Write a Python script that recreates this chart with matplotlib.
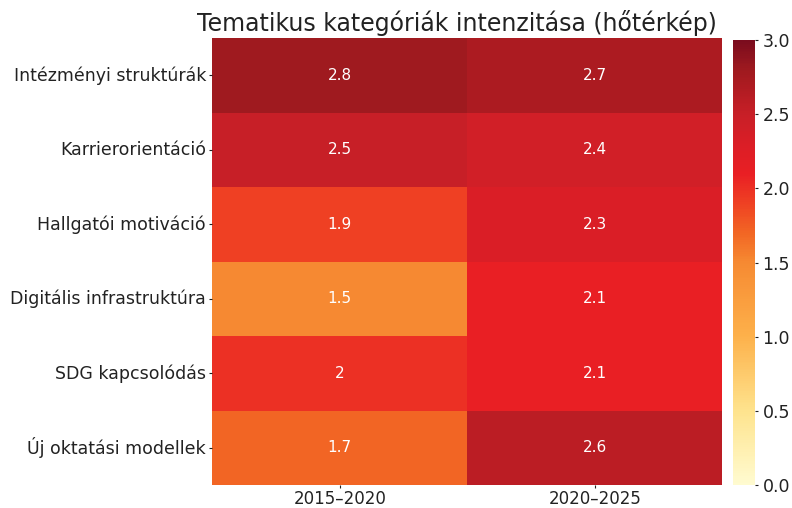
import matplotlib
matplotlib.use("Agg")
import matplotlib.pyplot as plt
from matplotlib.colors import LinearSegmentedColormap
import seaborn as sns
import pandas as pd

categories = ["Intézményi struktúrák", "Karrierorientáció", "Hallgatói motiváció",
              "Digitális infrastruktúra", "SDG kapcsolódás", "Új oktatási modellek"]
periods = ["2015–2020", "2020–2025"]
v_2015_2020 = [2.8, 2.5, 1.9, 1.5, 2.0, 1.7]
v_2020_2025 = [2.7, 2.4, 2.3, 2.1, 2.1, 2.6]

df = pd.DataFrame({periods[0]: v_2015_2020, periods[1]: v_2020_2025}, index=categories)

# colour map (YlOrRd-like)
anchors = [(0.0, "#fffbd0"), (0.5, "#fee38d"), (1.0, "#fdb14b"), (1.5, "#f68a32"),
           (1.7, "#f26624"), (1.9, "#ef4123"), (2.1, "#e91f24"), (2.3, "#db1e26"),
           (2.5, "#c81f27"), (2.7, "#ad1b21"), (2.8, "#9f1a1f"), (3.0, "#7b0c1e")]
cmap = LinearSegmentedColormap.from_list("ref", [(v / 3.0, c) for v, c in anchors])

fig = plt.figure(figsize=(7.92, 5.08), dpi=100)
ax = fig.add_axes([0.268, 0.045, 0.644, 0.880])
cax = fig.add_axes([0.926, 0.045, 0.027, 0.876])
sns.heatmap(df, ax=ax, cbar_ax=cax, cmap=cmap, vmin=0, vmax=3, annot=True,
            annot_kws={"color": "white", "fontsize": 11})
ax.set_title("Tematikus kategóriák intenzitása (hőtérkép)", fontsize=17, pad=5,
             color="#222222", x=0.48)
ax.tick_params(axis="y", labelsize=12.5, length=2.5, pad=2, colors="#222222")
ax.tick_params(axis="x", labelsize=12, length=2.5, pad=1, colors="#222222")
ax.set_yticklabels(categories, rotation=0)
ax.set_xticklabels(periods, rotation=0)
cax.tick_params(labelsize=12.5, length=2.5, pad=3, colors="#222222")
fig.savefig("out.png", dpi=100)
